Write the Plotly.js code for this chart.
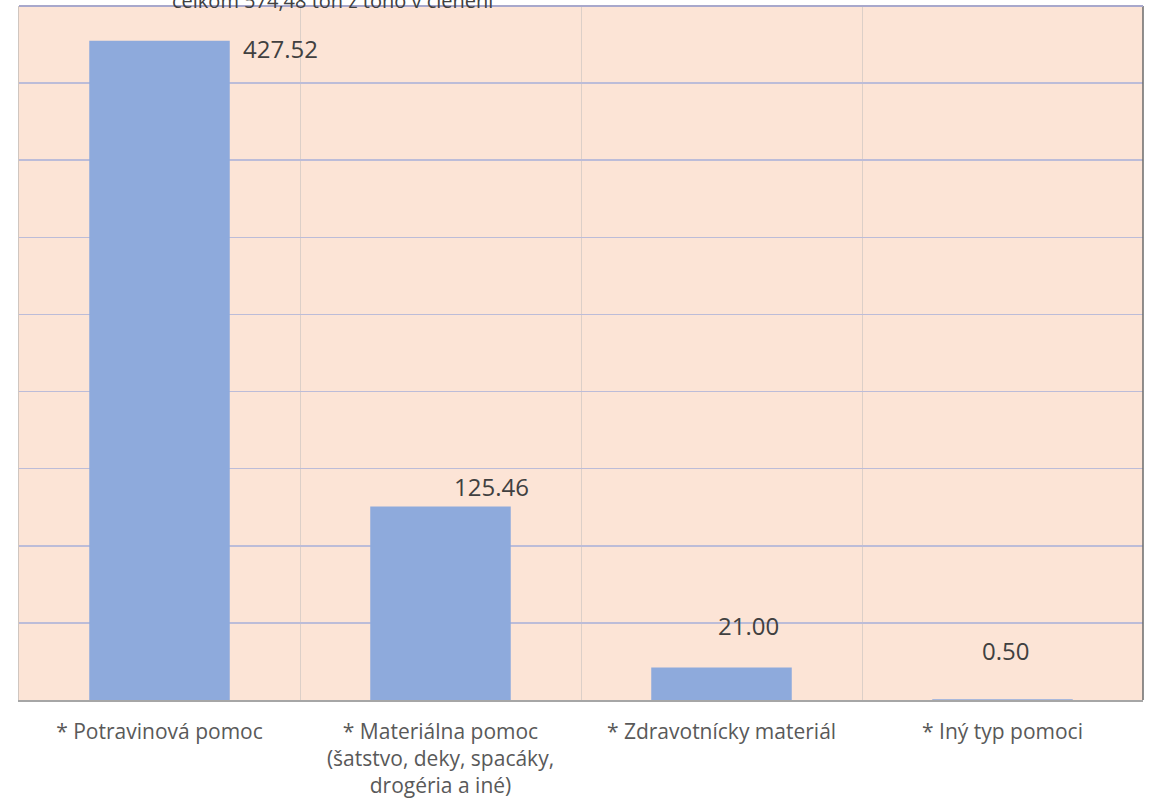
<!DOCTYPE html>
<html>
<head>
<meta charset="utf-8">
<script src="https://cdn.plot.ly/plotly-3.0.1.min.js"></script>
<style>html,body{margin:0;padding:0;background:#fff;}#chart{width:1152px;height:798px;}</style>
</head>
<body>
<div id="chart"></div>
<script>
var categories = [
  "* Potravinová pomoc",
  "* Materiálna pomoc<br>(šatstvo, deky, spacáky,<br>drogéria a iné)",
  "* Zdravotnícky materiál",
  "* Iný typ pomoci"
];
var values = [427.52, 125.46, 21.00, 0.50];
var valueLabels = ["427.52", "125.46", "21.00", "0.50"];
var titleText = "celkom 574,48 ton z toho v členení";

// label offsets in pixels (style, not data)
var labelShiftX = [121, 51, 27, 3];
var labelShiftY = [-8, 20, 42, 49];

var annotations = values.map(function(v, i) {
  return {
    x: categories[i], y: v, xref: 'x', yref: 'y',
    xanchor: 'center', yanchor: 'middle',
    text: valueLabels[i], showarrow: false,
    xshift: labelShiftX[i], yshift: labelShiftY[i],
    font: {family: 'Open Sans, sans-serif', size: 24, color: '#404040'}
  };
});
annotations.push({
  x: 0.279, y: 1, xref: 'paper', yref: 'paper', xanchor: 'center', yanchor: 'middle',
  yshift: 6, text: titleText, showarrow: false,
  font: {family: 'Open Sans, sans-serif', size: 20, color: '#404040'}
});

var trace = {
  type: 'bar', x: categories, y: values,
  marker: {color: '#8eaadc'},
  hoverinfo: 'none'
};

var layout = {
  width: 1152, height: 798,
  margin: {l: 19, r: 9, t: 6, b: 98},
  paper_bgcolor: '#ffffff',
  plot_bgcolor: '#fce4d6',
  bargap: 0.5,
  showlegend: false,
  xaxis: {
    type: 'category',
    tickson: 'boundaries',
    showgrid: true, gridcolor: '#dccfc8', gridwidth: 1,
    ticks: '',
    ticklabelstandoff: 12,
    showline: true, linecolor: '#a6a6a6', linewidth: 1.5,
    tickfont: {family: 'Open Sans, sans-serif', size: 21, color: '#595959'},
    fixedrange: true
  },
  yaxis: {
    range: [0, 450], dtick: 50, tick0: 0,
    showticklabels: false, ticks: '',
    showgrid: true, gridcolor: '#bcbcd8', gridwidth: 1.5,
    zeroline: false,
    showline: true, linecolor: '#d0c6c0', linewidth: 1,
    fixedrange: true
  },
  shapes: [
    {type: 'line', xref: 'paper', yref: 'paper', x0: 1, x1: 1, y0: 0, y1: 1,
     line: {color: '#6b6b6b', width: 1.5}},
    {type: 'line', xref: 'paper', yref: 'paper', x0: 0, x1: 1, y0: 1, y1: 1,
     line: {color: '#a8a8cc', width: 2}}
  ],
  annotations: annotations
};

Plotly.newPlot('chart', [trace], layout, {displayModeBar: false, staticPlot: true});
</script>
</body>
</html>
